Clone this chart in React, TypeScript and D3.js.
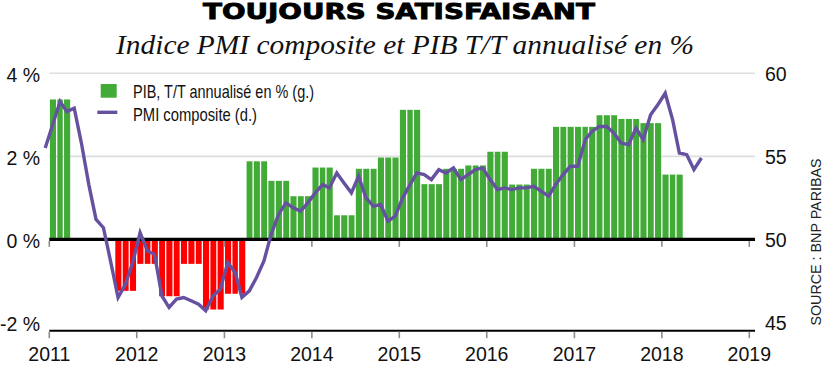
import { line, scaleLinear, scaleTime, timeMonth } from 'd3'

type PmiPoint = {
  readonly date: Date
  readonly value: number
}

type MonthBar = {
  readonly key: string
  readonly start: Date
  readonly value: number
}

// PIB, T/T annualisé en %, trimestres T1 2011 -> T1 2018
const gdpQuarters = [
  'T1 2011', 'T2 2011', 'T3 2011', 'T4 2011',
  'T1 2012', 'T2 2012', 'T3 2012', 'T4 2012',
  'T1 2013', 'T2 2013', 'T3 2013', 'T4 2013',
  'T1 2014', 'T2 2014', 'T3 2014', 'T4 2014',
  'T1 2015', 'T2 2015', 'T3 2015', 'T4 2015',
  'T1 2016', 'T2 2016', 'T3 2016', 'T4 2016',
  'T1 2017', 'T2 2017', 'T3 2017', 'T4 2017',
  'T1 2018',
]
const gdpValues = [
  3.37, 0, 0, -1.24,
  -0.59, -1.37, -0.59, -1.69,
  -1.31, 1.88, 1.41, 1.04,
  1.73, 0.58, 1.7, 1.97,
  3.12, 1.33, 1.7, 1.78,
  2.11, 1.32, 1.7, 2.71,
  2.71, 2.99, 2.9, 2.8,
  1.56,
]

// PMI composite, mensuel, décembre 2010 -> juin 2018
const pmi2010 = [55.5]
const pmi2011 = [56.9, 58.3, 57.7, 57.9, 55.8, 53.3, 51.2, 50.7, 48.6, 46.5, 47.3, 48.6]
const pmi2012 = [50.4, 49.3, 49.1, 46.6, 45.9, 46.4, 46.5, 46.3, 46.1, 45.7, 46.6, 47.0]
const pmi2013 = [48.6, 48.0, 46.5, 46.9, 47.7, 48.7, 50.3, 51.5, 52.2, 51.9, 51.7, 52.2]
const pmi2014 = [52.8, 53.3, 53.1, 54.0, 53.4, 52.8, 53.8, 52.5, 52.0, 52.1, 51.1, 51.4]
const pmi2015 = [52.5, 53.3, 54.0, 53.9, 53.6, 54.2, 54.0, 54.3, 53.6, 53.9, 54.2, 54.3]
const pmi2016 = [53.6, 53.0, 53.1, 53.0, 53.1, 53.1, 53.2, 52.9, 52.6, 53.3, 53.9, 54.4]
const pmi2017 = [54.4, 56.0, 56.5, 56.8, 56.8, 56.4, 55.8, 55.7, 56.7, 56.0, 57.5, 58.1]
const pmi2018 = [58.8, 57.2, 55.2, 55.1, 54.2, 54.9]

const yearTicks = [2011, 2012, 2013, 2014, 2015, 2016, 2017, 2018, 2019]
const leftTicks = [4, 2, 0, -2]
const leftTickLabels = ['4 %', '2 %', '0 %', '-2 %']
const rightTicks = [60, 55, 50, 45]

const GREEN = '#42ab38'
const RED = '#ff0000'
const PURPLE = '#6651a1'
const LABEL_FONT = '"Liberation Sans Narrow", "Liberation Sans", sans-serif'

function buildMonthBars(): MonthBar[] {
  const origin = new Date(2011, 0, 1)
  return gdpValues.flatMap((value, quarterIndex) =>
    [0, 1, 2].map((offset) => ({
      key: `${gdpQuarters[quarterIndex]}-${offset}`,
      start: timeMonth.offset(origin, quarterIndex * 3 + offset),
      value,
    })),
  )
}

function buildPmiPoints(): PmiPoint[] {
  const values = [
    ...pmi2010, ...pmi2011, ...pmi2012, ...pmi2013,
    ...pmi2014, ...pmi2015, ...pmi2016, ...pmi2017, ...pmi2018,
  ]
  return values.map((value, index) => ({
    date: new Date(2010, 11 + index, 15),
    value,
  }))
}

export default function App() {
  const width = 832
  const height = 366
  const plotLeft = 49.3
  const plotRight = 755
  const plotBottom = 330.7

  const x = scaleTime()
    .domain([new Date(2011, 0, 1), new Date(2019, 0, 1)])
    .range([plotLeft, 749.3])
  const yLeft = scaleLinear().domain([-2.2, 4]).range([plotBottom, 73.3])
  const yRight = scaleLinear().domain([44.5, 60]).range([plotBottom, 73.3])

  const bars = buildMonthBars()
  const points = buildPmiPoints()
  const pathGenerator = line<PmiPoint>()
    .x((point) => x(point.date))
    .y((point) => yRight(point.value))
  const path = pathGenerator(points) ?? ''
  const zeroY = yLeft(0)

  return (
    <svg
      width={width}
      height={height}
      viewBox={`0 0 ${width} ${height}`}
      style={{ position: 'absolute', left: 0, top: 0, background: '#fff' }}
    >
      <text
        x={399}
        y={18.5}
        textAnchor="middle"
        fontFamily='"DejaVu Sans", sans-serif'
        fontWeight="bold"
        fontSize={21.5}
        textLength={392}
        lengthAdjust="spacingAndGlyphs"
        fill="#000"
        stroke="#000"
        strokeWidth={0.9}
      >
        TOUJOURS SATISFAISANT
      </text>
      <text
        x={405}
        y={54}
        textAnchor="middle"
        fontFamily='"Liberation Serif", serif'
        fontStyle="italic"
        fontSize={28}
        textLength={578}
        lengthAdjust="spacingAndGlyphs"
        fill="#111"
      >
        Indice PMI composite et PIB T/T annualisé en %
      </text>

      {[4, 2].map((tick) => (
        <line
          key={`grid-${tick}`}
          x1={plotLeft}
          x2={plotRight}
          y1={yLeft(tick)}
          y2={yLeft(tick)}
          stroke="#dcdfe0"
          strokeWidth={1.6}
        />
      ))}

      {bars.map((bar) => {
        const x0 = x(bar.start)
        const x1 = x(timeMonth.offset(bar.start, 1))
        const yValue = yLeft(bar.value)
        return (
          <rect
            key={bar.key}
            x={x0 + 0.6}
            y={Math.min(yValue, zeroY)}
            width={x1 - x0 - 1.3}
            height={Math.abs(yValue - zeroY)}
            fill={bar.value >= 0 ? GREEN : RED}
          />
        )
      })}

      <line x1={plotLeft} x2={plotRight} y1={zeroY} y2={zeroY} stroke="#000" strokeWidth={3.2} />
      <line x1={plotLeft} x2={plotRight} y1={plotBottom} y2={plotBottom} stroke="#000" strokeWidth={2} />

      {yearTicks.map((year) => {
        const tx = x(new Date(year, 0, 1))
        return (
          <g key={`tick-${year}`}>
            <line x1={tx} x2={tx} y1={zeroY + 1.6} y2={zeroY + 7.5} stroke="#8c8c8c" strokeWidth={1.6} />
            <line x1={tx} x2={tx} y1={plotBottom + 1} y2={plotBottom + 7.5} stroke="#8c8c8c" strokeWidth={1.6} />
            <text
              x={tx}
              y={361}
              textAnchor="middle"
              fontFamily={LABEL_FONT}
              fontSize={19.5}
              fill="#111"
            >
              {year}
            </text>
          </g>
        )
      })}

      {leftTicks.map((tick, index) => (
        <text
          key={`left-${tick}`}
          x={40}
          y={yLeft(tick) + 8.5}
          textAnchor="end"
          fontFamily={LABEL_FONT}
          fontSize={19.5}
          fill="#111"
        >
          {leftTickLabels[index]}
        </text>
      ))}
      {rightTicks.map((tick) => (
        <text
          key={`right-${tick}`}
          x={765}
          y={yRight(tick) + 8}
          fontFamily={LABEL_FONT}
          fontSize={19.5}
          fill="#111"
        >
          {tick}
        </text>
      ))}

      <path d={path} fill="none" stroke={PURPLE} strokeWidth={3.4} strokeLinejoin="miter" />

      <rect x={100.7} y={84} width={16} height={13.7} fill={GREEN} />
      <text
        x={133}
        y={97.7}
        fontFamily={LABEL_FONT}
        fontSize={18.5}
        textLength={181}
        lengthAdjust="spacingAndGlyphs"
        fill="#111"
      >
        PIB, T/T annualisé en % (g.)
      </text>
      <line x1={97.3} x2={117.3} y1={112.3} y2={112.3} stroke={PURPLE} strokeWidth={3.4} />
      <text
        x={133}
        y={120.7}
        fontFamily={LABEL_FONT}
        fontSize={18.5}
        textLength={124}
        lengthAdjust="spacingAndGlyphs"
        fill="#111"
      >
        PMI composite (d.)
      </text>

      <text
        transform="translate(821, 242) rotate(-90)"
        textAnchor="middle"
        fontFamily='"Liberation Sans", sans-serif'
        fontSize={14.3}
        fill="#222"
      >
        SOURCE : BNP PARIBAS
      </text>
    </svg>
  )
}
